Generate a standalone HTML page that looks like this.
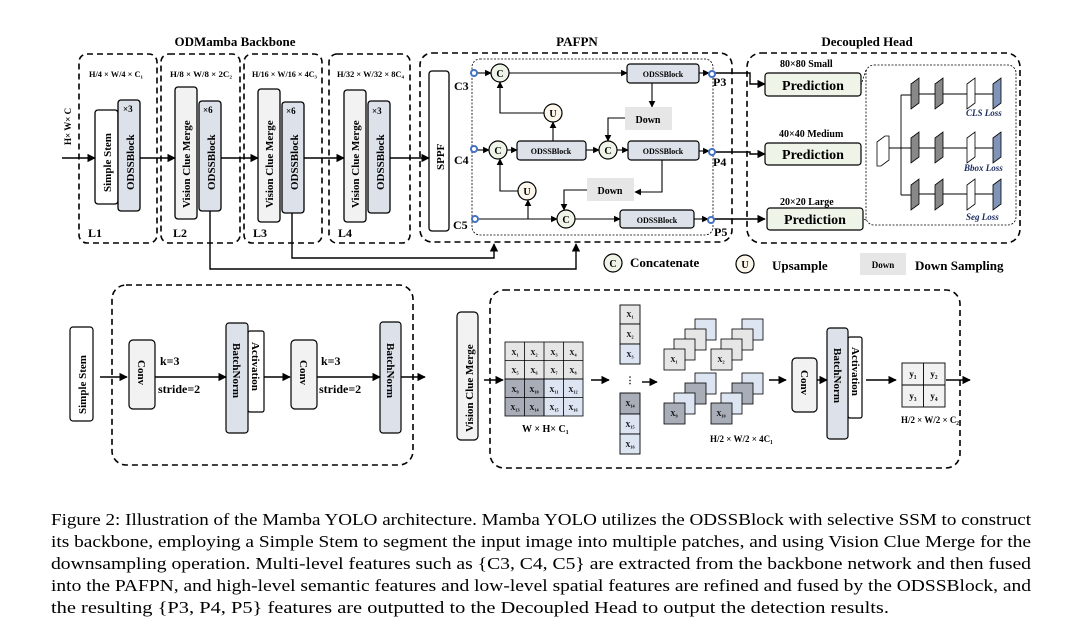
<!DOCTYPE html>
<html><head><meta charset="utf-8"><style>
body{margin:0;background:#fff}
svg{display:block}
text{font-family:"Liberation Serif",serif;font-weight:bold;fill:#000}
.cap{font-weight:normal;font-size:16.5px}
</style></head><body>
<svg width="1084" height="635" viewBox="0 0 1084 635" xmlns="http://www.w3.org/2000/svg">
<defs>
<marker id="a" viewBox="0 0 10 10" refX="9" refY="5" markerWidth="6" markerHeight="6" orient="auto"><path d="M0,0L10,5L0,10z" fill="#000"/></marker>
</defs>
<g fill="none" stroke="#000" stroke-width="1.6" stroke-dasharray="6,4">
<rect x="79" y="54" width="78" height="189" rx="8"/>
<rect x="161" y="54" width="79" height="189" rx="8"/>
<rect x="244" y="54" width="78" height="189" rx="8"/>
<rect x="329" y="54" width="81" height="189" rx="8"/>
<rect x="420" y="53" width="312" height="189" rx="12"/>
<rect x="747" y="53" width="273" height="190" rx="14"/>
<rect x="112" y="285" width="301" height="180" rx="14"/>
<rect x="490" y="290" width="470" height="178" rx="14"/>
</g>
<g fill="none" stroke="#000" stroke-width="0.8" stroke-dasharray="2,1.5">
<rect x="472" y="59" width="241" height="176" rx="8"/>
<rect x="866" y="65" width="150" height="160" rx="8"/>
<path d="M866,70 L861,85 M866,220 L861,218"/>
</g>
<g font-size="13" text-anchor="middle">
<text x="235" y="46">ODMamba Backbone</text>
<text x="577" y="46">PAFPN</text>
<text x="867" y="46">Decoupled Head</text>
</g>
<g font-size="8.5">
<text x="89" y="77" textLength="54" lengthAdjust="spacingAndGlyphs">H/4 × W/4 × C₁</text>
<text x="170" y="77" textLength="62" lengthAdjust="spacingAndGlyphs">H/8 × W/8 × 2C₂</text>
<text x="252" y="77" textLength="65" lengthAdjust="spacingAndGlyphs">H/16 × W/16 × 4C₃</text>
<text x="337" y="77" textLength="67" lengthAdjust="spacingAndGlyphs">H/32 × W/32 × 8C₄</text>
</g>
<g font-size="12">
<text x="88" y="237">L1</text><text x="173" y="237">L2</text><text x="253" y="237">L3</text><text x="338" y="237">L4</text>
</g>
<text font-size="9" transform="translate(71,145) rotate(-90)">H× W× C</text>
<g stroke="#000" stroke-width="1.3">
<rect x="95" y="110" width="23" height="94" rx="3" fill="#fff"/>
<rect x="118" y="100" width="22" height="111" rx="3" fill="#dde2ea"/>
<rect x="175" y="87" width="22" height="132" rx="3" fill="#f2f2f2"/>
<rect x="199" y="101" width="22" height="110" rx="3" fill="#dde2ea"/>
<rect x="258" y="89" width="22" height="133" rx="3" fill="#f2f2f2"/>
<rect x="282" y="102" width="22" height="111" rx="3" fill="#dde2ea"/>
<rect x="344" y="90" width="22" height="132" rx="3" fill="#f2f2f2"/>
<rect x="368" y="101" width="22" height="112" rx="3" fill="#dde2ea"/>
<rect x="429" y="71" width="20" height="160" rx="3" fill="#fff"/>
</g>
<g font-size="11">
<text transform="translate(111,192) rotate(-90)">Simple Stem</text>
<text transform="translate(134,190) rotate(-90)">ODSSBlock</text>
<text transform="translate(190,208) rotate(-90)">Vision Clue Merge</text>
<text transform="translate(215,190) rotate(-90)">ODSSBlock</text>
<text transform="translate(273,208) rotate(-90)">Vision Clue Merge</text>
<text transform="translate(298,190) rotate(-90)">ODSSBlock</text>
<text transform="translate(359,208) rotate(-90)">Vision Clue Merge</text>
<text transform="translate(384,190) rotate(-90)">ODSSBlock</text>
<text transform="translate(444,170) rotate(-90)">SPPF</text>
</g>
<g font-size="9" font-weight="normal"><text x="123" y="112">×3</text><text x="203" y="113">×6</text><text x="286" y="114">×6</text><text x="372" y="114">×3</text></g>
<g stroke="#000" stroke-width="1.4" fill="none" marker-end="url(#a)">
<path d="M62,158H95"/><path d="M140,158H175"/><path d="M221,158H258"/><path d="M304,158H344"/><path d="M390,158H429"/>
<path d="M210,211V269H576V244"/><path d="M292,213V258H494V244"/>
<path d="M713,73H750V84H765"/><path d="M713,152H750V154H765"/><path d="M712,219H750V219H765"/>
</g>
<g stroke="#000" stroke-width="1.1" fill="none" marker-end="url(#a)">
<path d="M477,73H491"/><path d="M509,73H627"/><path d="M699,73H709"/>
<path d="M477,150H489"/><path d="M507,150H517"/><path d="M586,150H599"/><path d="M617,150H628"/><path d="M699,151H709"/>
<path d="M478,219H557"/><path d="M575,219H620"/><path d="M694,219H708"/>
<path d="M553,141V122"/><path d="M544,113H500V82"/>
<path d="M528,219V200"/><path d="M518,191H500V159"/>
<path d="M652,83V107"/><path d="M625,118H608V141"/>
<path d="M662,160V192H635"/><path d="M587,190H564V210"/>
</g>
<g stroke="#000" stroke-width="1.2">
<rect x="627" y="64" width="72" height="19" rx="3" fill="#dde2ea"/>
<rect x="517" y="141" width="69" height="19" rx="3" fill="#dde2ea"/>
<rect x="628" y="141" width="71" height="19" rx="3" fill="#dde2ea"/>
<rect x="620" y="210" width="74" height="18" rx="3" fill="#dde2ea"/>
<circle cx="500" cy="73" r="9" fill="#eef5e8"/><circle cx="498" cy="150" r="9" fill="#eef5e8"/>
<circle cx="608" cy="150" r="9" fill="#eef5e8"/><circle cx="566" cy="219" r="9" fill="#eef5e8"/>
<circle cx="553" cy="113" r="9" fill="#fdf6ea"/><circle cx="527" cy="191" r="9" fill="#fdf6ea"/>
<circle cx="613" cy="263" r="9" fill="#eef5e8"/><circle cx="745" cy="264" r="9" fill="#fdf6ea"/>
</g>
<g fill="#e6e6e6"><rect x="625" y="107" width="47" height="23"/><rect x="587" y="178" width="47" height="23"/><rect x="860" y="253" width="46" height="22"/></g>
<g fill="#fff" stroke="#4472c4" stroke-width="2"><circle cx="474" cy="73" r="3"/><circle cx="474" cy="149" r="3"/><circle cx="475" cy="219" r="3"/><circle cx="712" cy="74" r="3"/><circle cx="712" cy="152" r="3"/><circle cx="711" cy="220" r="3"/></g>
<g font-size="8" text-anchor="middle">
<text x="663" y="77">ODSSBlock</text><text x="551" y="154">ODSSBlock</text><text x="663" y="154">ODSSBlock</text><text x="657" y="223">ODSSBlock</text>
</g>
<g font-size="10" text-anchor="middle">
<text x="500" y="77">C</text><text x="498" y="154">C</text><text x="608" y="154">C</text><text x="566" y="223">C</text>
<text x="553" y="117">U</text><text x="527" y="195">U</text><text x="613" y="267">C</text><text x="745" y="268">U</text>
<text x="648" y="123">Down</text><text x="610" y="194">Down</text><text x="883" y="268" font-size="9">Down</text>
</g>
<g font-size="12"><text x="454" y="90">C3</text><text x="454" y="164">C4</text><text x="453" y="229">C5</text>
<text x="713" y="86">P3</text><text x="713" y="166">P4</text><text x="714" y="236">P5</text></g>
<g font-size="13"><text x="630" y="267">Concatenate</text><text x="772" y="270">Upsample</text><text x="915" y="270">Down Sampling</text></g>
<g stroke="#000" stroke-width="1.2" fill="#eef5e8">
<rect x="765" y="73" width="96" height="23" rx="3"/><rect x="765" y="143" width="96" height="22" rx="3"/><rect x="767" y="208" width="96" height="22" rx="3"/>
</g>
<g font-size="14" text-anchor="middle"><text x="813" y="90">Prediction</text><text x="813" y="159">Prediction</text><text x="815" y="224">Prediction</text></g>
<g font-size="10" font-weight="normal"><text x="780" y="67">80×80  Small</text><text x="779" y="137">40×40  Medium</text><text x="780" y="205">20×20  Large</text></g>
<g stroke="#000" stroke-width="0.9" fill="none">
<path d="M889,148H901M901,95V195M901,95H911M901,148H911M901,195H911"/>
<path d="M919,94H935M943,94H967M975,94H993M919,148H935M943,148H967M975,148H993M919,194H935M943,194H967M975,194H993"/>
</g>
<g stroke="#000" stroke-width="0.8">
<polygon points="877,142 885,136 889,136 889,160 881,166 877,166" fill="#fff"/>
<polygon points="911,84 919,78 919,103 911,109" fill="#888"/><polygon points="935,84 943,78 943,103 935,109" fill="#888"/><polygon points="967,84 975,78 975,103 967,109" fill="#fff"/><polygon points="993,84 1001,78 1001,103 993,109" fill="#8093b8"/>
<polygon points="911,138 919,132 919,157 911,163" fill="#888"/><polygon points="935,138 943,132 943,157 935,163" fill="#888"/><polygon points="967,138 975,132 975,157 967,163" fill="#fff"/><polygon points="993,138 1001,132 1001,157 993,163" fill="#8093b8"/>
<polygon points="911,185 919,179 919,204 911,210" fill="#888"/><polygon points="935,185 943,179 943,204 935,210" fill="#888"/><polygon points="967,185 975,179 975,204 967,210" fill="#fff"/><polygon points="993,185 1001,179 1001,204 993,210" fill="#8093b8"/>
</g>
<g font-size="9" font-style="italic"><text x="966" y="116" style="fill:#1a2a5a">CLS Loss</text><text x="964" y="171" style="fill:#1a2a5a">Bbox Loss</text><text x="966" y="220" style="fill:#1a2a5a">Seg Loss</text></g>
<g stroke="#000" stroke-width="1.2">
<rect x="70" y="327" width="23" height="94" rx="3" fill="#fff"/>
<rect x="129" y="340" width="26" height="69" rx="4" fill="#f2f2f2"/>
<rect x="248" y="331" width="16" height="81" rx="2" fill="#fff"/>
<rect x="226" y="323" width="22" height="110" rx="3" fill="#dde2ea"/>
<rect x="291" y="340" width="26" height="69" rx="4" fill="#f2f2f2"/>
<rect x="380" y="322" width="21" height="111" rx="3" fill="#dde2ea"/>
<rect x="457" y="312" width="21" height="128" rx="4" fill="#f2f2f2"/>
<rect x="792" y="358" width="25" height="54" rx="4" fill="#f2f2f2"/>
<rect x="848" y="337" width="14" height="81" rx="2" fill="#fff"/>
<rect x="827" y="328" width="21" height="111" rx="3" fill="#dde2ea"/>
</g>
<g stroke="#000" stroke-width="1.4" fill="none" marker-end="url(#a)">
<path d="M100,377H127"/><path d="M155,377H226"/><path d="M264,377H290"/><path d="M317,377H380"/><path d="M401,377H425"/>
<path d="M484,380H503"/><path d="M591,380H609"/><path d="M642,382H657"/><path d="M769,380H786"/><path d="M817,380H827"/><path d="M866,380H896"/><path d="M946,380H970"/>
</g>
<g font-size="11">
<text transform="translate(86,414) rotate(-90)">Simple Stem</text>
<text transform="translate(138,360) rotate(90)">Conv</text>
<text transform="translate(233,343) rotate(90)">BatchNorm</text>
<text transform="translate(252,342) rotate(90)">Activation</text>
<text transform="translate(300,360) rotate(90)">Conv</text>
<text transform="translate(387,343) rotate(90)">BatchNorm</text>
<text transform="translate(473,432) rotate(-90)">Vision Clue Merge</text>
<text transform="translate(801,370) rotate(90)">Conv</text>
<text transform="translate(834,348) rotate(90)">BatchNorm</text>
<text transform="translate(852,347) rotate(90)">Activation</text>
</g>
<g font-size="12"><text x="160" y="365">k=3</text><text x="158" y="393">stride=2</text><text x="321" y="365">k=3</text><text x="319" y="393">stride=2</text></g>
<g stroke="#000" stroke-width="0.8" font-size="7">
<rect x="505" y="342" width="78" height="37" fill="#e6e6e6"/>
<rect x="505" y="379" width="39" height="37" fill="#a8adb8"/>
<rect x="544" y="379" width="39" height="37" fill="#dde4f2"/>
<path d="M524.5,342V416M544,342V416M563.5,342V416M505,360.5H583M505,379H583M505,397.5H583" fill="none"/>
</g>
<g font-size="7" text-anchor="middle">
<text x="515" y="355">X₁</text><text x="534" y="355">X₂</text><text x="554" y="355">X₃</text><text x="573" y="355">X₄</text>
<text x="515" y="373">X₅</text><text x="534" y="373">X₆</text><text x="554" y="373">X₇</text><text x="573" y="373">X₈</text>
<text x="515" y="392">X₉</text><text x="534" y="392">X₁₀</text><text x="554" y="392">X₁₁</text><text x="573" y="392">X₁₂</text>
<text x="515" y="410">X₁₃</text><text x="534" y="410">X₁₄</text><text x="554" y="410">X₁₅</text><text x="573" y="410">X₁₆</text>
</g>
<text x="522" y="432" font-size="10">W × H× C₁</text>
<g stroke="#000" stroke-width="0.9">
<rect x="620" y="305" width="20" height="19" fill="#e6e6e6"/><rect x="620" y="324" width="20" height="20" fill="#e6e6e6"/><rect x="620" y="344" width="20" height="20" fill="#dde4f2"/>
<rect x="620" y="393" width="20" height="21" fill="#a8adb8"/><rect x="620" y="414" width="20" height="20" fill="#dde4f2"/><rect x="620" y="434" width="20" height="20" fill="#dde4f2"/>
</g>
<g font-size="7" text-anchor="middle"><text x="630" y="317">X₁</text><text x="630" y="337">X₂</text><text x="630" y="357">X₃</text><text x="630" y="406">X₁₄</text><text x="630" y="427">X₁₅</text><text x="630" y="447">X₁₆</text>
<text x="630" y="383" font-size="9">⋮</text></g>
<g stroke="#000" stroke-width="0.8">
<rect x="695" y="319" width="21" height="21" fill="#dde4f2"/><rect x="685" y="329" width="21" height="21" fill="#e6e6e6"/><rect x="674" y="339" width="21" height="21" fill="#e6e6e6"/><rect x="664" y="349" width="21" height="21" fill="#e6e6e6"/>
<rect x="742" y="319" width="21" height="21" fill="#dde4f2"/><rect x="732" y="329" width="21" height="21" fill="#e6e6e6"/><rect x="721" y="339" width="21" height="21" fill="#e6e6e6"/><rect x="711" y="349" width="21" height="21" fill="#e6e6e6"/>
<rect x="695" y="373" width="21" height="21" fill="#dde4f2"/><rect x="685" y="383" width="21" height="21" fill="#a8adb8"/><rect x="674" y="393" width="21" height="21" fill="#dde4f2"/><rect x="664" y="403" width="21" height="21" fill="#a8adb8"/>
<rect x="742" y="373" width="21" height="21" fill="#dde4f2"/><rect x="732" y="383" width="21" height="21" fill="#a8adb8"/><rect x="721" y="393" width="21" height="21" fill="#dde4f2"/><rect x="711" y="403" width="21" height="21" fill="#a8adb8"/>
</g>
<g font-size="7" text-anchor="middle"><text x="674" y="362">X₁</text><text x="721" y="362">X₂</text><text x="674" y="416">X₉</text><text x="721" y="416">X₁₀</text></g>
<text x="710" y="442" font-size="9">H/2 × W/2 × 4C₁</text>
<g stroke="#000" stroke-width="0.9">
<rect x="902" y="363" width="43" height="44" fill="#f2f2f2"/><path d="M923.5,363V407M902,385H945" fill="none"/>
</g>
<g font-size="9" text-anchor="middle"><text x="913" y="377">y₁</text><text x="934" y="377">y₂</text><text x="913" y="399">y₃</text><text x="934" y="399">y₄</text></g>
<text x="901" y="423" font-size="9" textLength="58" lengthAdjust="spacingAndGlyphs">H/2 × W/2 × C₂</text>
<g class="cap">
<text class="cap" x="51" y="525" textLength="980" lengthAdjust="spacingAndGlyphs">Figure 2: Illustration of the Mamba YOLO architecture. Mamba YOLO utilizes the ODSSBlock with selective SSM to construct</text>
<text class="cap" x="51" y="547" textLength="980" lengthAdjust="spacingAndGlyphs">its backbone, employing a Simple Stem to segment the input image into multiple patches, and using Vision Clue Merge for the</text>
<text class="cap" x="51" y="569" textLength="980" lengthAdjust="spacingAndGlyphs">downsampling operation. Multi-level features such as {C3, C4, C5} are extracted from the backbone network and then fused</text>
<text class="cap" x="51" y="591" textLength="980" lengthAdjust="spacingAndGlyphs">into the PAFPN, and high-level semantic features and low-level spatial features are refined and fused by the ODSSBlock, and</text>
<text class="cap" x="51" y="613" textLength="838" lengthAdjust="spacingAndGlyphs">the resulting {P3, P4, P5} features are outputted to the Decoupled Head to output the detection results.</text>
</g>
</svg>
</body></html>
